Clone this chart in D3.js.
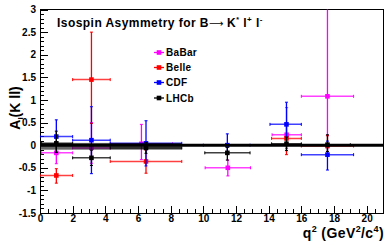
<!DOCTYPE html>
<meta charset="utf-8">
<style>
body { margin: 0; background: white; }
text { font-family: "Liberation Sans", Arial, sans-serif; font-weight: bold; }
.tick text { font-size: 10px; }
.axis path { display: none; }
.axis line { stroke: #000; stroke-width: 1px; shape-rendering: crispEdges; }
</style>
<svg width="389" height="250"></svg>
<script src="https://d3js.org/d3.v7.min.js"></script>
<script>
// experiments, legend order
var names = ["BaBar", "Belle", "CDF", "LHCb"];
var colors = ["#ff00ff", "#ff0000", "#0000ff", "#000000"];

// BaBar
var babarX   = [1.0, 3.15, 6.21, 11.5, 15.1, 17.6];
var babarXlo = [0.1, 2.0, 4.3, 10.11, 14.21, 16.0];
var babarXhi = [2.0, 4.3, 8.12, 12.89, 16.0, 19.2];
var babarY   = [-0.17, -0.06, 0.03, -0.50, 0.23, 1.08];
var babarUp  = [0.25, 0.56, 0.43, 0.17, 0.60, 2.10];
var babarDn  = [0.24, 0.34, 0.35, 0.18, 0.30, 0.87];

// Belle
var belleX   = [1.0, 3.15, 6.49, 15.09, 17.6];
var belleXlo = [0.0, 2.0, 4.3, 14.18, 16.0];
var belleXhi = [2.0, 4.3, 8.68, 16.0, 19.2];
var belleY   = [-0.67, 1.45, -0.36, 0.15, -0.02];
var belleUp  = [0.15, 1.05, 0.25, 0.30, 0.23];
var belleDn  = [0.17, 0.97, 0.26, 0.36, 0.20];

// CDF
var cdfX   = [1.0, 3.15, 6.49, 11.47, 15.09, 17.6];
var cdfXlo = [0.0, 2.0, 4.3, 10.0, 14.08, 16.0];
var cdfXhi = [2.0, 4.3, 8.68, 12.86, 16.0, 19.2];
var cdfY   = [0.19, 0.11, 0.04, 0.0, 0.46, -0.21];
var cdfUp  = [0.37, 0.74, 0.50, 0.25, 0.49, 0.30];
var cdfDn  = [0.35, 0.74, 0.50, 0.20, 0.45, 0.34];

// LHCb
var lhcbX   = [1.0, 3.15, 6.49, 11.47, 15.09, 17.6];
var lhcbXlo = [0.1, 2.0, 4.3, 10.09, 14.18, 16.0];
var lhcbXhi = [2.0, 4.3, 8.68, 12.86, 16.0, 19.0];
var lhcbY   = [0.04, -0.28, -0.06, -0.17, 0.03, 0.01];
var lhcbUp  = [0.27, 0.17, 0.12, 0.12, 0.15, 0.22];
var lhcbDn  = [0.20, 0.17, 0.12, 0.16, 0.15, 0.15];

// grey band at low q2 and zero line
var bandX = [0, 8.68];
var bandY = [-0.10, 0.05];

var xTicks = [0, 2, 4, 6, 8, 10, 12, 14, 16, 18, 20];
var yTicks = [-1.5, -1, -0.5, 0, 0.5, 1, 1.5, 2, 2.5, 3];

var svg = d3.select("svg"),
    margin = {top: 9.5, right: 6, bottom: 37, left: 40},
    width = 389 - margin.left - margin.right,
    height = 250 - margin.top - margin.bottom;

var x = d3.scaleLinear().domain([0, 21]).range([0, width]);
var y = d3.scaleLinear().domain([-1.5, 3]).range([height, 0]);

var g = svg.append("g")
    .attr("transform", "translate(" + margin.left + "," + margin.top + ")");

g.append("clipPath").attr("id", "clip")
  .append("rect").attr("width", width).attr("height", height);

// axes, ticks inside
g.append("g").attr("class", "axis")
    .attr("transform", "translate(0," + height + ")")
    .call(d3.axisBottom(x).tickValues(d3.range(0, 21.01, 0.5)).tickSize(-4).tickFormat(""));
g.append("g").attr("class", "axis")
    .attr("transform", "translate(0," + height + ")")
    .call(d3.axisBottom(x).tickValues(xTicks).tickSize(-7).tickPadding(2));
g.append("g").attr("class", "axis")
    .call(d3.axisLeft(y).tickValues(d3.range(-1.5, 3.001, 0.1)).tickSize(-4).tickFormat(""));
g.append("g").attr("class", "axis")
    .call(d3.axisLeft(y).tickValues(yTicks).tickSize(-8).tickPadding(4)
      .tickFormat(function(d) { return String(d); }));

g.append("rect")
    .attr("width", width).attr("height", height)
    .attr("fill", "none").attr("stroke", "#000").attr("stroke-width", 1)
    .attr("shape-rendering", "crispEdges");

var plot = g.append("g").attr("clip-path", "url(#clip)");

function rows(xs, xlo, xhi, ys, up, dn) {
  return xs.map(function(v, i) {
    return {x: v, xlo: xlo[i], xhi: xhi[i], y: ys[i], up: up[i], dn: dn[i]};
  });
}

var series = [
  rows(babarX, babarXlo, babarXhi, babarY, babarUp, babarDn),
  rows(belleX, belleXlo, belleXhi, belleY, belleUp, belleDn),
  rows(cdfX, cdfXlo, cdfXhi, cdfY, cdfUp, cdfDn),
  rows(lhcbX, lhcbXlo, lhcbXhi, lhcbY, lhcbUp, lhcbDn)
];

series.forEach(function(data, k) {
  var c = colors[k];
  var s = plot.append("g").attr("stroke", c).attr("fill", c);
  var pts = s.selectAll("g").data(data).enter().append("g");
  // horizontal bars
  pts.append("line")
      .attr("x1", function(d) { return x(d.xlo); })
      .attr("x2", function(d) { return x(d.xhi); })
      .attr("y1", function(d) { return y(d.y); })
      .attr("y2", function(d) { return y(d.y); })
      .attr("stroke-width", 1.5).attr("stroke-opacity", 0.75);
  // vertical bars
  pts.append("line")
      .attr("x1", function(d) { return x(d.x); })
      .attr("x2", function(d) { return x(d.x); })
      .attr("y1", function(d) { return y(d.y + d.up); })
      .attr("y2", function(d) { return y(d.y - d.dn); })
      .attr("stroke-width", 1.3);
  // caps
  pts.each(function(d) {
    var p = d3.select(this);
    [d.xlo, d.xhi].forEach(function(v) {
      p.append("line").attr("x1", x(v)).attr("x2", x(v))
        .attr("y1", y(d.y) - 1.5).attr("y2", y(d.y) + 1.5).attr("stroke-width", 1);
    });
    [d.y + d.up, d.y - d.dn].forEach(function(v) {
      p.append("line").attr("x1", x(d.x) - 1.5).attr("x2", x(d.x) + 1.5)
        .attr("y1", y(v)).attr("y2", y(v)).attr("stroke-width", 1);
    });
  });
  pts.append("rect")
      .attr("x", function(d) { return x(d.x) - 2.3; })
      .attr("y", function(d) { return y(d.y) - 2.3; })
      .attr("width", 4.6).attr("height", 4.6).attr("stroke", "none");
});

// band and zero line
plot.append("rect")
    .attr("x", x(bandX[0])).attr("width", x(bandX[1]) - x(bandX[0]))
    .attr("y", y(bandY[1])).attr("height", y(bandY[0]) - y(bandY[1]))
    .attr("fill", "#000").attr("fill-opacity", 0.6);
plot.append("line")
    .attr("x1", x(0)).attr("x2", x(21)).attr("y1", y(0)).attr("y2", y(0))
    .attr("stroke", "#000").attr("stroke-width", 3);

// legend
var leg = svg.append("g").attr("transform", "translate(159,52.5)");
names.forEach(function(n, k) {
  var r = leg.append("g").attr("transform", "translate(0," + [0, 15, 30, 45.5][k] + ")");
  r.append("line").attr("x1", -5).attr("x2", 5).attr("stroke", colors[k]).attr("stroke-width", 1.3);
  r.append("rect").attr("x", -2.3).attr("y", -2.3).attr("width", 4.6).attr("height", 4.6).attr("fill", colors[k]);
  r.append("text").attr("x", 7).attr("y", 3.6).style("font-size", "10px")
      .style("letter-spacing", "0.3px").text(n);
});

// title
var t = svg.append("text").attr("x", 57).attr("y", 27).style("font-size", "12px")
    .style("letter-spacing", "0.45px");
t.append("tspan").text("Isospin Asymmetry for B");
t.append("tspan").style("font-family", "DejaVu Sans").style("font-weight", "normal")
    .style("font-size", "10px").style("letter-spacing", "0px").text("\u27F6");
t.append("tspan").text(" K");
t.append("tspan").attr("dy", -5).style("font-size", "7px").text("*");
t.append("tspan").attr("dy", 5).text(" l");
t.append("tspan").attr("dy", -5).style("font-size", "8px").text("+");
t.append("tspan").attr("dy", 5).text(" l");
t.append("tspan").attr("dy", -5).style("font-size", "8px").text("-");

// axis titles
var xt = svg.append("text").attr("x", 384).attr("y", 238)
    .attr("text-anchor", "end").style("font-size", "14px").style("letter-spacing", "0.4px");
xt.append("tspan").text("q");
xt.append("tspan").attr("dy", -6).style("font-size", "9px").text("2");
xt.append("tspan").attr("dy", 6).text(" (GeV");
xt.append("tspan").attr("dy", -6).style("font-size", "9px").text("2");
xt.append("tspan").attr("dy", 6).text("/c");
xt.append("tspan").attr("dy", -6).style("font-size", "9px").text("4");
xt.append("tspan").attr("dy", 6).text(")");

var yt = svg.append("text").attr("transform", "translate(20,108) rotate(-90)")
    .attr("text-anchor", "middle").style("font-size", "14px");
yt.append("tspan").text("A");
yt.append("tspan").attr("dy", 3).style("font-size", "8px").text("I");
yt.append("tspan").attr("dy", -3).text("(K ll)");
</script>
